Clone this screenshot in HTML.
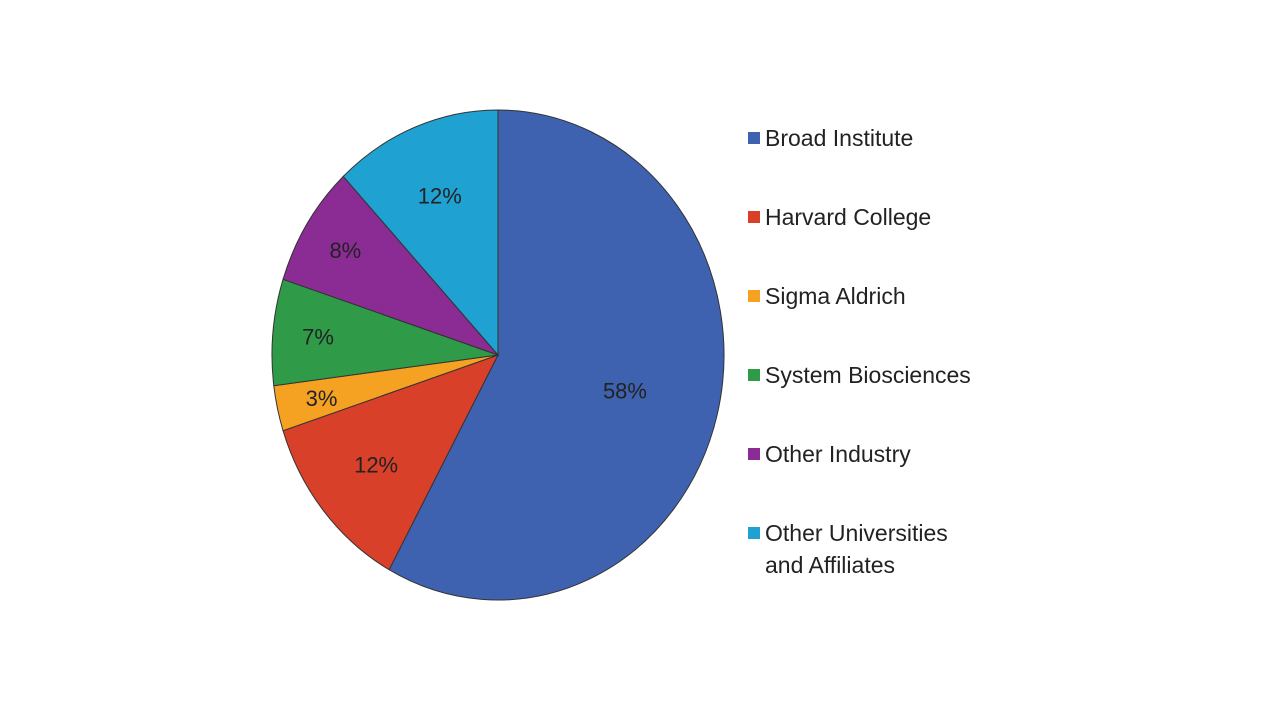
<!DOCTYPE html>
<html><head><meta charset="utf-8"><style>
html,body{margin:0;padding:0;background:#fff;width:1280px;height:720px;overflow:hidden}
svg text{font-family:"Liberation Sans",Arial,sans-serif}
</style></head><body>
<svg id="chart" width="1280" height="720"></svg>
<script>
const categories=["Broad Institute","Harvard College","Sigma Aldrich","System Biosciences","Other Industry","Other Universities and Affiliates"];
const values=[58,12,3,7,8,12];
const labels=["58%","12%","3%","7%","8%","12%"];
const colors=["#3f62b0","#d8402a","#f5a223","#2f9a48","#8b2b94","#1fa1d2"];
const NS="http://www.w3.org/2000/svg";
const svg=document.getElementById("chart");
const cx=498,cy=355,rx=226,ry=245;
const total=values.reduce((a,b)=>a+b,0);
function pt(frac,k){const a=frac*2*Math.PI;return [cx+rx*k*Math.sin(a),cy-ry*k*Math.cos(a)];}
let acc=0;
values.forEach((v,i)=>{
  const f0=acc/total,f1=(acc+v)/total;acc+=v;
  const [x0,y0]=pt(f0,1),[x1,y1]=pt(f1,1);
  const large=(f1-f0)>0.5?1:0;
  const p=document.createElementNS(NS,"path");
  p.setAttribute("d",`M${cx},${cy} L${x0},${y0} A${rx},${ry} 0 ${large} 1 ${x1},${y1} Z`);
  p.setAttribute("fill",colors[i]);p.setAttribute("stroke","#333");p.setAttribute("stroke-width","1");
  
  
  svg.appendChild(p);
  const k=v<10?0.8:(v>50?0.58:0.7);
  const [lx,ly]=pt((f0+f1)/2,k);
  const t=document.createElementNS(NS,"text");
  t.setAttribute("x",lx);t.setAttribute("y",ly+8);t.setAttribute("text-anchor","middle");
  t.setAttribute("font-size","22");t.setAttribute("fill","#222");t.textContent=labels[i];
  
  
  svg.appendChild(t);
});
const ly0=138,lstep=79;
categories.forEach((c,i)=>{
  const y=ly0+i*lstep;
  const r=document.createElementNS(NS,"rect");
  r.setAttribute("x",748);r.setAttribute("y",y-6);r.setAttribute("width",12);r.setAttribute("height",12);
  r.setAttribute("fill",colors[i]);
  
  
  svg.appendChild(r);
  const t=document.createElementNS(NS,"text");
  t.setAttribute("x",765);t.setAttribute("y",y+8);t.setAttribute("font-size","23");t.setAttribute("fill","#222");
  
  
  if(i===5){
    const a=document.createElementNS(NS,"tspan");a.setAttribute("x",765);a.textContent="Other Universities";t.appendChild(a);
    const b=document.createElementNS(NS,"tspan");b.setAttribute("x",765);b.setAttribute("dy",32);b.textContent="and Affiliates";t.appendChild(b);
  } else t.textContent=c;
  svg.appendChild(t);
});
</script>
</body></html>
